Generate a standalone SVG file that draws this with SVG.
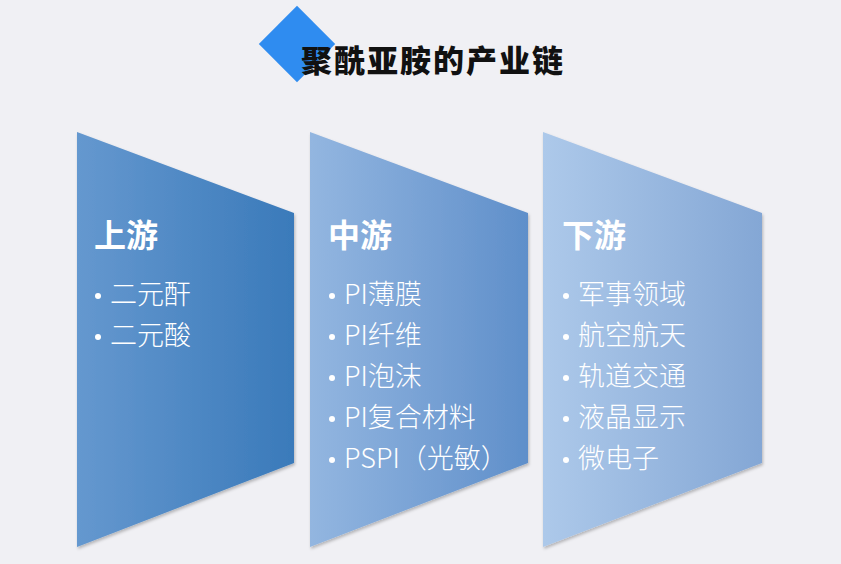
<svg xmlns="http://www.w3.org/2000/svg" width="841" height="564" viewBox="0 0 841 564">
<defs>
<linearGradient id="g1" x1="0" y1="0" x2="1" y2="0"><stop offset="0" stop-color="#6598cf"/><stop offset="1" stop-color="#3a7aba"/></linearGradient>
<linearGradient id="g2" x1="0" y1="0" x2="1" y2="0"><stop offset="0" stop-color="#93b6e0"/><stop offset="1" stop-color="#5f8fca"/></linearGradient>
<linearGradient id="g3" x1="0" y1="0" x2="1" y2="0"><stop offset="0" stop-color="#adc9ea"/><stop offset="1" stop-color="#84a7d5"/></linearGradient>
<filter id="sh" x="-10%" y="-10%" width="130%" height="130%"><feDropShadow dx="1" dy="2" stdDeviation="1.5" flood-color="#000" flood-opacity="0.25"/></filter>
</defs>
<style>
.h{font-family:"Noto Sans CJK SC","Noto Sans",sans-serif;font-weight:bold;font-size:32px;fill:#fff}
.t{font-family:"Noto Sans CJK SC","Noto Sans",sans-serif;font-weight:300;font-size:27px;fill:#fff}
.b{fill:#fff}
.title{font-family:"Noto Sans CJK SC",sans-serif;font-weight:900;font-size:31px;fill:#111;letter-spacing:2px}
</style>
<rect width="841" height="564" fill="#f0f0f4"/>
<g id="title">
<rect x="270" y="17" width="54" height="54" fill="#2f8cf0" transform="rotate(45 297 44)"/>
<text class="title" x="301" y="72">聚酰亚胺的产业链</text>
</g>
<g id="upstream">
<polygon points="77,132 294,213 294,463 77,547" fill="url(#g1)" filter="url(#sh)"/>
<text class="h" x="94" y="247">上游</text>
<circle class="b" cx="98" cy="296" r="3"/>
<text class="t" x="110" y="304">二元酐</text>
<circle class="b" cx="98" cy="337" r="3"/>
<text class="t" x="110" y="345">二元酸</text>
</g>
<g id="midstream">
<polygon points="310,132 528,213 528,463 310,547" fill="url(#g2)" filter="url(#sh)"/>
<text class="h" x="328" y="247">中游</text>
<circle class="b" cx="332" cy="296" r="3"/>
<text class="t" x="344" y="304">PI薄膜</text>
<circle class="b" cx="332" cy="337" r="3"/>
<text class="t" x="344" y="345">PI纤维</text>
<circle class="b" cx="332" cy="378" r="3"/>
<text class="t" x="344" y="386">PI泡沫</text>
<circle class="b" cx="332" cy="419" r="3"/>
<text class="t" x="344" y="427">PI复合材料</text>
<circle class="b" cx="332" cy="460" r="3"/>
<text class="t" x="344" y="468">PSPI（光敏）</text>
</g>
<g id="downstream">
<polygon points="543,132 762,213 762,463 543,547" fill="url(#g3)" filter="url(#sh)"/>
<text class="h" x="562" y="247">下游</text>
<circle class="b" cx="566" cy="296" r="3"/>
<text class="t" x="578" y="304">军事领域</text>
<circle class="b" cx="566" cy="337" r="3"/>
<text class="t" x="578" y="345">航空航天</text>
<circle class="b" cx="566" cy="378" r="3"/>
<text class="t" x="578" y="386">轨道交通</text>
<circle class="b" cx="566" cy="419" r="3"/>
<text class="t" x="578" y="427">液晶显示</text>
<circle class="b" cx="566" cy="460" r="3"/>
<text class="t" x="578" y="468">微电子</text>
</g>
<g id="connectors"></g>
</svg>
